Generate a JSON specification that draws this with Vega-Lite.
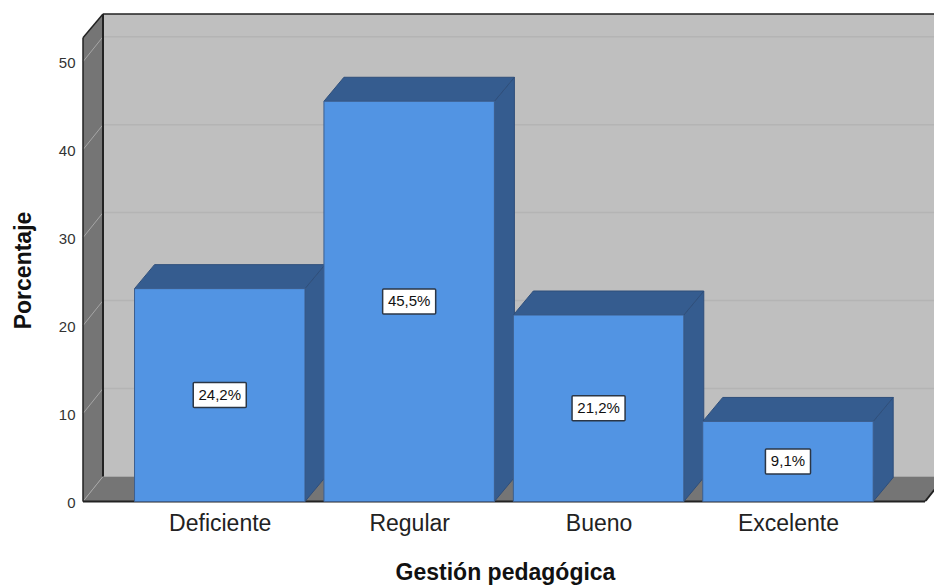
{
"$schema":"https://vega.github.io/schema/vega-lite/v6.json",
"width":851,"height":488,
"autosize":{"type":"none"},
"padding":{"left":83,"top":13.5,"right":0,"bottom":83.5},
"background":"white",
"config":{"view":{"stroke":null},"font":"Liberation Sans"},
"datasets":{
"bars":[
{"categoria":"Deficiente","orden":1,"porcentaje":24.2,"etiqueta":"24,2%"},
{"categoria":"Regular","orden":2,"porcentaje":45.5,"etiqueta":"45,5%"},
{"categoria":"Bueno","orden":3,"porcentaje":21.2,"etiqueta":"21,2%"},
{"categoria":"Excelente","orden":4,"porcentaje":9.1,"etiqueta":"9,1%"}],
"ticks":[{"t":10},{"t":20},{"t":30},{"t":40},{"t":50}],
"ticks0":[{"t":0},{"t":10},{"t":20},{"t":30},{"t":40},{"t":50}],
"frame":[{"xf":0.278,"xb":0.3836,"xr":4.7236,"xrb":4.829,"xe":4.771,"yf":52.73,"yt":55.42,"yd":2.842,"y0":0}]
},
"layer":[
{"data":{"name":"frame"},"mark":{"type":"rect","fill":"#bfbfbf"},
 "encoding":{
  "x":{"field":"xb","type":"quantitative","scale":{"domain":[0.278,4.771],"nice":false,"zero":false},
   "axis":{"values":[1,2,3,4],"labelExpr":"['','Deficiente','Regular','Bueno','Excelente'][datum.value]","title":"Gestión pedagógica","titleFontSize":23,"titleFontWeight":"bold","titleColor":"#111","titleX":422,"titleY":60,"labelFontSize":23,"labelColor":"#222","labelPadding":11,"domain":false,"ticks":false,"grid":false,"labelOverlap":false,"labelFlush":false}},
  "x2":{"field":"xe"},
  "y":{"field":"yd","type":"quantitative","scale":{"domain":[0,55.48],"nice":false,"zero":false},
   "axis":{"values":[0,10,20,30,40,50],"title":"Porcentaje","titleFontSize":23,"titleFontWeight":"bold","titleColor":"#111","titleX":-48,"titleY":256.5,"labelFontSize":15,"labelColor":"#333","labelPadding":8,"labelOffset":1,"domain":false,"ticks":false,"grid":false}},
  "y2":{"field":"yt"}}},
{"data":{"name":"ticks"},"transform":[{"calculate":"datum.t+2.842","as":"yb"},{"calculate":"0.3836","as":"xa"},{"calculate":"4.771","as":"xc"}],
 "mark":{"type":"rule","stroke":"#b4b4b4","strokeWidth":1.5},
 "encoding":{"x":{"field":"xa","type":"quantitative"},"x2":{"field":"xc"},"y":{"field":"yb","type":"quantitative"}}},
{"data":{"name":"frame"},"transform":[{"calculate":"[0,1]","as":"plane"},{"flatten":["plane"]},{"calculate":"0.278+datum.plane*0.1056","as":"xp"},{"calculate":"datum.plane*2.842","as":"ya"},{"calculate":"52.73+datum.plane*2.69","as":"yb"}],
 "mark":{"type":"area","orient":"vertical","fill":"#757575"},
 "encoding":{"x":{"field":"xp","type":"quantitative"},"y":{"field":"ya","type":"quantitative","stack":null},"y2":{"field":"yb"}}},
{"data":{"name":"frame"},"transform":[{"calculate":"[0,1]","as":"plane"},{"flatten":["plane"]},{"calculate":"0.278+datum.plane*0.1056","as":"xa"},{"calculate":"4.7236+datum.plane*0.1056","as":"xc"},{"calculate":"datum.plane*2.842","as":"yp"}],
 "mark":{"type":"area","orient":"horizontal","fill":"#757575","clip":true},
 "encoding":{"y":{"field":"yp","type":"quantitative"},"x":{"field":"xa","type":"quantitative","stack":null},"x2":{"field":"xc"}}},
{"data":{"name":"ticks0"},"transform":[{"calculate":"datum.t+2.842","as":"yb"},{"calculate":"0.278","as":"xa"},{"calculate":"0.3836","as":"xc"}],
 "mark":{"type":"rule","stroke":"#a6a6a6","strokeWidth":1},
 "encoding":{"x":{"field":"xa","type":"quantitative"},"x2":{"field":"xc"},"y":{"field":"t","type":"quantitative"},"y2":{"field":"yb"}}},
{"data":{"name":"frame"},"mark":{"type":"rule","stroke":"#222","strokeWidth":2},
 "encoding":{"x":{"field":"xb","type":"quantitative"},"y":{"field":"yd","type":"quantitative"},"y2":{"field":"yt"}}},
{"data":{"name":"frame"},"mark":{"type":"rule","stroke":"#222","strokeWidth":1.5},
 "encoding":{"x":{"field":"xf","type":"quantitative"},"y":{"field":"y0","type":"quantitative"},"y2":{"field":"yf"}}},
{"data":{"name":"frame"},"mark":{"type":"rule","stroke":"#222","strokeWidth":1.5},
 "encoding":{"x":{"field":"xb","type":"quantitative"},"x2":{"field":"xe"},"y":{"field":"yt","type":"quantitative"}}},
{"data":{"name":"frame"},"mark":{"type":"rule","stroke":"#222","strokeWidth":1.5},
 "encoding":{"x":{"field":"xf","type":"quantitative"},"x2":{"field":"xb"},"y":{"field":"yf","type":"quantitative"},"y2":{"field":"yt"}}},
{"data":{"name":"frame"},"mark":{"type":"rule","stroke":"#222","strokeWidth":2},
 "encoding":{"x":{"field":"xf","type":"quantitative"},"x2":{"field":"xr"},"y":{"field":"y0","type":"quantitative"}}},
{"data":{"name":"frame"},"mark":{"type":"rule","stroke":"#222","strokeWidth":2,"clip":true},
 "encoding":{"x":{"field":"xr","type":"quantitative"},"x2":{"field":"xrb"},"y":{"field":"y0","type":"quantitative"},"y2":{"field":"yd"}}},
{"data":{"name":"bars"},"transform":[{"calculate":"[0,1]","as":"plane"},{"flatten":["plane"]},{"calculate":"datum.orden+0.45+datum.plane*0.1056","as":"xs"},{"calculate":"datum.plane*2.73","as":"ya"},{"calculate":"datum.porcentaje+datum.plane*2.73","as":"yb"}],
 "mark":{"type":"area","orient":"vertical","fill":"#355c8f","stroke":"#2f4f7b","strokeWidth":1},
 "encoding":{"detail":{"field":"categoria","type":"nominal"},"x":{"field":"xs","type":"quantitative"},"y":{"field":"ya","type":"quantitative","stack":null},"y2":{"field":"yb"}}},
{"data":{"name":"bars"},"transform":[{"calculate":"[0,1]","as":"plane"},{"flatten":["plane"]},{"calculate":"datum.orden-0.45+datum.plane*0.1056","as":"xa"},{"calculate":"datum.orden+0.45+datum.plane*0.1056","as":"xc"},{"calculate":"datum.porcentaje+datum.plane*2.73","as":"yp"}],
 "mark":{"type":"area","orient":"horizontal","fill":"#355c8f","stroke":"#2f4f7b","strokeWidth":1},
 "encoding":{"detail":{"field":"categoria","type":"nominal"},"y":{"field":"yp","type":"quantitative"},"x":{"field":"xa","type":"quantitative","stack":null},"x2":{"field":"xc"}}},
{"data":{"name":"bars"},"transform":[{"calculate":"datum.orden-0.45","as":"xa"},{"calculate":"datum.orden+0.45","as":"xc"},{"calculate":"0","as":"ya"}],
 "mark":{"type":"rect","fill":"#5294e3","stroke":"#3d5f8f","strokeWidth":1},
 "encoding":{"x":{"field":"xa","type":"quantitative"},"x2":{"field":"xc"},"y":{"field":"ya","type":"quantitative"},"y2":{"field":"porcentaje"}}},
{"data":{"name":"bars"},"transform":[{"calculate":"length(datum.etiqueta)==5?0.14:0.119","as":"hw"},{"calculate":"datum.orden-datum.hw","as":"xa"},{"calculate":"datum.orden+datum.hw","as":"xc"},{"calculate":"datum.porcentaje/2-1.42","as":"ya"},{"calculate":"datum.porcentaje/2+1.42","as":"yb"}],
 "mark":{"type":"rect","fill":"white","stroke":"#2b3645","strokeWidth":1.5,"cornerRadius":1},
 "encoding":{"x":{"field":"xa","type":"quantitative"},"x2":{"field":"xc"},"y":{"field":"ya","type":"quantitative"},"y2":{"field":"yb"}}},
{"data":{"name":"bars"},"transform":[{"calculate":"datum.porcentaje/2","as":"ym"}],
 "mark":{"type":"text","fontSize":15,"color":"#111","baseline":"middle","align":"center"},
 "encoding":{"x":{"field":"orden","type":"quantitative"},"y":{"field":"ym","type":"quantitative"},"text":{"field":"etiqueta","type":"nominal"}}}
]
}
